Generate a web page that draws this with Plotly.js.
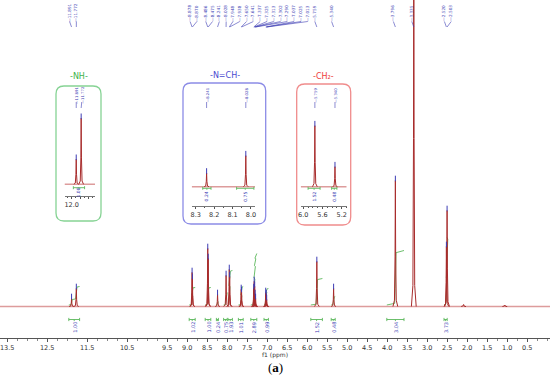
<!DOCTYPE html>
<html><head><meta charset="utf-8">
<script src="https://cdn.plot.ly/plotly-3.0.1.min.js"></script>
<style>html,body{margin:0;padding:0;background:#fff}#chart{width:550px;height:379px}</style>
</head><body><div id="chart"></div>
<script>
// ================= DATA =================
// main spectrum peaks (ppm) and heights (arbitrary intensity units)
const peakPpm    = [11.891, 11.772, 8.878, 8.870, 8.486, 8.475, 8.241, 8.028, 7.948, 7.938, 7.650, 7.641, 7.337, 7.325, 7.313, 7.302, 7.290, 7.037, 7.025, 7.013, 5.759, 5.340, 3.796, 3.335, 2.520, 2.503, 2.090, 1.060];
const peakHeight = [8, 18, 34, 28, 58, 48, 12, 31, 37, 30, 17, 15, 18, 25, 20, 12, 8, 14, 12, 7, 45, 18, 126, 420, 60, 96, 2, 1.5];
const peakLabels = ['11.891','11.772','8.878','8.870','8.486','8.475','8.241','8.028','7.948','7.938','7.650','7.641','7.337','7.325','7.313','7.302','7.290','7.037','7.025','7.013','5.759','5.340','3.796','3.335','2.520','2.503'];

// integrals
const integFrom   = [11.96, 8.95, 8.55, 8.27, 8.09, 7.98, 7.72, 7.41, 7.08, 5.91, 5.40, 4.01, 2.58];
const integTo     = [11.69, 8.80, 8.41, 8.22, 8.00, 7.87, 7.60, 7.26, 6.97, 5.62, 5.30, 3.58, 2.50];
const integCurveTop = [20, 19, 19, 5, 14, 36, 20, 53, 18, 28, 10, 56, 69];
const integValues = ['1.00','1.02','1.00','0.24','0.75','1.93','1.01','2.89','0.99','1.52','0.48','3.04','3.73'];

// main axis tick labels
const axisTickVals = [13.5, 12.5, 11.5, 10.5, 9.5, 9.0, 8.5, 8.0, 7.5, 7.0, 6.5, 6.0, 5.5, 5.0, 4.5, 4.0, 3.5, 3.0, 2.5, 2.0, 1.5, 1.0, 0.5];
const axisTickText = ['13.5','12.5','11.5','10.5','9.5','9.0','8.5','8.0','7.5','7.0','6.5','6.0','5.5','5.0','4.5','4.0','3.5','3.0','2.5','2.0','1.5','1.0','0.5'];

// inset: -NH-
const nhPpm = [11.891, 11.772];
const nhHeight = [25, 66];
const nhLabels = ['11.891', '11.772'];
const nhIntegFrom = [11.96], nhIntegTo = [11.69], nhIntegValues = ['1.00'];
const nhTickVals = [12.0, 11.8, 11.6], nhTickText = ['12.0', '', ''];
// inset: -N=CH-
const nchPpm = [8.241, 8.028];
const nchHeight = [13.7, 31];
const nchLabels = ['8.241', '8.028'];
const nchIntegFrom = [8.262, 8.078], nchIntegTo = [8.217, 7.984], nchIntegValues = ['0.24', '0.75'];
const nchTickVals = [8.3, 8.2, 8.1, 8.0], nchTickText = ['8.3', '8.2', '8.1', '8.0'];
// inset: -CH2-
const ch2Ppm = [5.759, 5.340];
const ch2Height = [61, 20];
const ch2Labels = ['5.759', '5.340'];
const ch2IntegFrom = [5.90, 5.41], ch2IntegTo = [5.65, 5.30], ch2IntegValues = ['1.52', '0.48'];
const ch2TickVals = [6.0, 5.6, 5.2], ch2TickText = ['6.0', '5.6', '5.2'];

// ================= STYLE / LAYOUT =================
const W = 550, H = 338;                  // plot area in px
const RED = '#a82c2c', PINK = '#dd9c9c', GREEN = '#5cb85c', BLUE = '#3c3cb4', AX = '#555';
const py2paper = p => (H - p) / H;
const px2paper = x => x / W;

const main = {xr: [13.68, -0.07], basePx: 306.5};
main.yr = [main.basePx - H, main.basePx];
main.scale = W / (main.xr[0] - main.xr[1]);
const ppm2px = v => (main.xr[0] - v) * main.scale;
const px2ppm = px => main.xr[0] - px / main.scale;

const traces = [];
const annotations = [];
const shapes = [];

function spikes(ppm, h, pxPerPpm, xa, ya) {
  const bx = 2.4 / pxPerPpm, fx = 0.9 / pxPerPpm, mx = 0.3 / pxPerPpm;
  const x = [], y = [];
  for (let i = 0; i < ppm.length; i++) {
    const p = ppm[i], v = h[i];
    x.push(p + bx, p + fx, p + mx, p, p - mx, p - fx, p - bx, null);
    y.push(0, 0.05 * v, 0.4 * v, v, 0.4 * v, 0.05 * v, 0, null);
  }
  return {type: 'scatter', mode: 'lines', x, y, xaxis: xa, yaxis: ya, line: {color: RED, width: 1}, hoverinfo: 'skip', showlegend: false};
}
function baseline(xr, xa, ya) {
  return {type: 'scatter', mode: 'lines', x: xr, y: [0, 0], xaxis: xa, yaxis: ya, line: {color: PINK, width: 1.4}, hoverinfo: 'skip', showlegend: false};
}
function pickMarks(ppm, h, xa, ya, ymax) {
  const x = [], y = [];
  ppm.forEach((p, i) => { if (h[i] + 2 < ymax) { x.push(p); y.push(h[i] + 2); } });
  return {type: 'scatter', mode: 'markers', x, y, xaxis: xa, yaxis: ya,
    marker: {symbol: 'line-ns', size: 4, line: {color: BLUE, width: 1}}, hoverinfo: 'skip', showlegend: false};
}
function brackets(from, to, yb, xa, ya, tick) {
  const x = [], y = [];
  for (let i = 0; i < from.length; i++) {
    const m = (from[i] + to[i]) / 2;
    x.push(from[i], to[i], null, from[i], from[i], null, to[i], to[i], null, m, m, null);
    y.push(yb, yb, null, yb - tick, yb + tick, null, yb - tick, yb + tick, null, yb, yb - tick, null);
  }
  return {type: 'scatter', mode: 'lines', x, y, xaxis: xa, yaxis: ya, line: {color: GREEN, width: 0.9}, hoverinfo: 'skip', showlegend: false};
}
function integLabels(from, to, vals, yv, xref, yref, size) {
  for (let i = 0; i < vals.length; i++) {
    annotations.push({x: (from[i] + to[i]) / 2, y: yv, xref, yref, text: vals[i], textangle: -90, showarrow: false,
      font: {size, color: BLUE, family: 'DejaVu Sans'}, xanchor: 'center', yanchor: 'middle'});
  }
}
function spread(pxs, gap) {
  const out = [];
  pxs.forEach((v, i) => out.push(i ? Math.max(v, out[i - 1] + gap) : v));
  return out;
}
function peakLabelSet(labels, toPx, toPpm, gap, shift, textP, lineP0, lineP1, base, xref, yref, size) {
  const ideal = labels.map(s => toPx(parseFloat(s)));
  const pos = spread(ideal, gap).map(v => v + shift);
  const lx = [], ly = [];
  labels.forEach((s, i) => {
    annotations.push({x: toPpm(pos[i]), y: py2paper(textP), xref, yref: 'paper', text: '\u2014' + s, textangle: -90, showarrow: false,
      font: {size, color: BLUE, family: 'DejaVu Sans'}, xanchor: 'center', yanchor: 'middle'});
    lx.push(toPpm(pos[i]), parseFloat(s), null);
    ly.push(base - lineP0, base - lineP1, null);
  });
  traces.push({type: 'scatter', mode: 'lines', x: lx, y: ly, xaxis: xref, yaxis: yref, line: {color: BLUE, width: 0.6}, hoverinfo: 'skip', showlegend: false, cliponaxis: false});
}

// ---------- main spectrum ----------
// integral curves (cumulative over the peaks inside each region)
(function () {
  const x = [], y = [];
  const d = 0.7 / main.scale;
  for (let i = 0; i < integFrom.length; i++) {
    const inside = [];
    peakPpm.forEach((p, k) => { if (p <= integFrom[i] && p >= integTo[i]) inside.push(k); });
    const tot = inside.reduce((s, k) => s + peakHeight[k], 0);
    const top = integCurveTop[i];
    let cum = 1.5;
    x.push(integFrom[i]); y.push(cum);
    inside.forEach(k => {
      const inc = (top - 1.5) * peakHeight[k] / tot;
      x.push(peakPpm[k] + d, peakPpm[k] + d * 0.3, peakPpm[k] - d * 0.3, peakPpm[k] - d);
      y.push(cum + 0.03 * inc, cum + 0.3 * inc, cum + 0.8 * inc, cum + 0.96 * inc);
      cum += inc;
    });
    x.push(integTo[i]); y.push(top); x.push(null); y.push(null);
  }
  traces.push({type: 'scatter', mode: 'lines', x, y, xaxis: 'x', yaxis: 'y', line: {color: GREEN, width: 0.9}, hoverinfo: 'skip', showlegend: false});
})();
traces.push(baseline(main.xr, 'x', 'y'));
traces.push(spikes(peakPpm, peakHeight, main.scale, 'x', 'y'));
traces.push(pickMarks(peakPpm.slice(0, peakLabels.length), peakHeight.slice(0, peakLabels.length), 'x', 'y', main.yr[1]));
traces.push(brackets(integFrom, integTo, main.basePx - 319.5, 'x', 'y', 1.6));
integLabels(integFrom, integTo, integValues, main.basePx - 327.5, 'x', 'y', 5);
peakLabelSet(peakLabels, ppm2px, px2ppm, 6.8, -2, 13, 21.5, 27, main.basePx, 'x', 'y', 4.2);

// ---------- insets ----------
const insets = [
  {n: 2, xPx: [64.5, 95], yPx: [100, 196], basePx: 184.3, xr: [12.173, 11.439], box: [56, 86, 101, 221], border: '#86d394',
   title: '-NH-', tcolor: '#3cb34a', tAt: [79, 76], ppm: nhPpm, h: nhHeight, labels: nhLabels, gap: 5.5,
   iFrom: nhIntegFrom, iTo: nhIntegTo, iVal: nhIntegValues, bP: 187.7, lP: 192.5, tv: nhTickVals, tt: nhTickText, minor: 0.1},
  {n: 3, xPx: [191.7, 255], yPx: [100, 205.7], basePx: 186.7, xr: [8.322, 7.978], box: [183, 83, 265.7, 224], border: '#8c8ce6',
   title: '-N=CH-', tcolor: '#4a4ad0', tAt: [225, 75], ppm: nchPpm, h: nchHeight, labels: nchLabels, gap: 5.5,
   iFrom: nchIntegFrom, iTo: nchIntegTo, iVal: nchIntegValues, bP: 188.3, lP: 196.5, tv: nchTickVals, tt: nchTickText, minor: 0.05},
  {n: 4, xPx: [300.7, 346.7], yPx: [100, 205.7], basePx: 186.7, xr: [6.054, 5.096], box: [296.7, 84, 350.7, 225], border: '#f08c8c',
   title: '-CH\u2082-', tcolor: '#ee3b3b', tAt: [323, 76.5], ppm: ch2Ppm, h: ch2Height, labels: ch2Labels, gap: 5.5,
   iFrom: ch2IntegFrom, iTo: ch2IntegTo, iVal: ch2IntegValues, bP: 188.3, lP: 196.5, tv: ch2TickVals, tt: ch2TickText, minor: 0.1}
];

const layout = {
  width: 550, height: 379, margin: {l: 0, r: 0, t: 0, b: 41}, paper_bgcolor: '#fff', plot_bgcolor: 'rgba(0,0,0,0)',
  showlegend: false, hovermode: false,
  xaxis: {range: main.xr, domain: [0, 1], anchor: 'y', showgrid: false, zeroline: false, showline: true, linecolor: AX, linewidth: 1,
    ticks: 'outside', ticklen: 3, tickcolor: AX, tickmode: 'array', tickvals: axisTickVals, ticktext: axisTickText,
    tickfont: {size: 6.5, color: '#333', family: 'DejaVu Sans'}, automargin: false, ticklabeloverflow: 'allow',
    minor: {ticks: 'outside', ticklen: 1.5, tickcolor: '#888', tickmode: 'linear', tick0: 0, dtick: 0.25, showgrid: false}},
  yaxis: {range: main.yr, domain: [0, 1], visible: false, fixedrange: true},
  annotations, shapes
};

function roundRect(x0, y0, x1, y1, r) {
  const X = v => px2paper(v).toFixed(5), Y = v => py2paper(v).toFixed(5);
  return `M ${X(x0 + r)} ${Y(y0)} L ${X(x1 - r)} ${Y(y0)} Q ${X(x1)} ${Y(y0)} ${X(x1)} ${Y(y0 + r)} L ${X(x1)} ${Y(y1 - r)} Q ${X(x1)} ${Y(y1)} ${X(x1 - r)} ${Y(y1)} L ${X(x0 + r)} ${Y(y1)} Q ${X(x0)} ${Y(y1)} ${X(x0)} ${Y(y1 - r)} L ${X(x0)} ${Y(y0 + r)} Q ${X(x0)} ${Y(y0)} ${X(x0 + r)} ${Y(y0)} Z`;
}

insets.forEach(s => {
  const xa = 'x' + s.n, ya = 'y' + s.n;
  const yr = [s.basePx - s.yPx[1], s.basePx - s.yPx[0]];
  const scale = (s.xPx[1] - s.xPx[0]) / (s.xr[0] - s.xr[1]);
  const toPx = v => s.xPx[0] + (s.xr[0] - v) * scale;
  const toPpm = px => s.xr[0] - (px - s.xPx[0]) / scale;
  layout['xaxis' + s.n] = {range: s.xr, domain: [px2paper(s.xPx[0]), px2paper(s.xPx[1])], anchor: ya, showgrid: false, zeroline: false,
    showline: true, linecolor: AX, linewidth: 0.8, ticks: 'outside', ticklen: 2.5, tickcolor: AX, tickmode: 'array',
    tickvals: s.tv, ticktext: s.tt, tickfont: {size: 6.5, color: '#333', family: 'DejaVu Sans'}, automargin: false, ticklabeloverflow: 'allow',
    minor: {ticks: 'outside', ticklen: 1.5, tickcolor: AX, tickmode: 'linear', tick0: 0, dtick: s.minor, showgrid: false}};
  layout['yaxis' + s.n] = {range: yr, domain: [py2paper(s.yPx[1]), py2paper(s.yPx[0])], anchor: xa, visible: false, fixedrange: true};
  shapes.push({type: 'path', xref: 'paper', yref: 'paper', path: roundRect(s.box[0], s.box[1], s.box[2], s.box[3], 8),
    line: {color: s.border, width: 1.3}, fillcolor: 'rgba(0,0,0,0)', layer: 'below'});
  annotations.push({x: px2paper(s.tAt[0]), y: py2paper(s.tAt[1]), xref: 'paper', yref: 'paper', text: s.title, showarrow: false,
    font: {size: 8, color: s.tcolor, family: 'DejaVu Sans'}, xanchor: 'center', yanchor: 'middle'});
  traces.push(baseline(s.xr, xa, ya));
  traces.push(spikes(s.ppm, s.h, scale, xa, ya));
  traces.push(pickMarks(s.ppm, s.h, xa, ya, yr[1]));
  traces.push(brackets(s.iFrom, s.iTo, s.basePx - s.bP, xa, ya, 1.5));
  integLabels(s.iFrom, s.iTo, s.iVal, s.basePx - s.lP, xa, ya, 4.5);
  peakLabelSet(s.labels, toPx, toPpm, s.gap, 0, 95, 102, 108, s.basePx, xa, ya, 3.8);
});

annotations.push({x: 0.5, y: py2paper(355), xref: 'paper', yref: 'paper', text: 'f1 (ppm)', showarrow: false,
  font: {size: 6, color: '#333', family: 'DejaVu Sans'}, xanchor: 'center', yanchor: 'middle'});
annotations.push({x: 0.5, y: py2paper(367.5), xref: 'paper', yref: 'paper', text: '(<b>a</b>)', showarrow: false,
  font: {size: 13, color: '#000', family: 'Liberation Serif'}, xanchor: 'center', yanchor: 'middle'});

Plotly.newPlot('chart', traces, layout, {staticPlot: true, displayModeBar: false});
</script></body></html>
